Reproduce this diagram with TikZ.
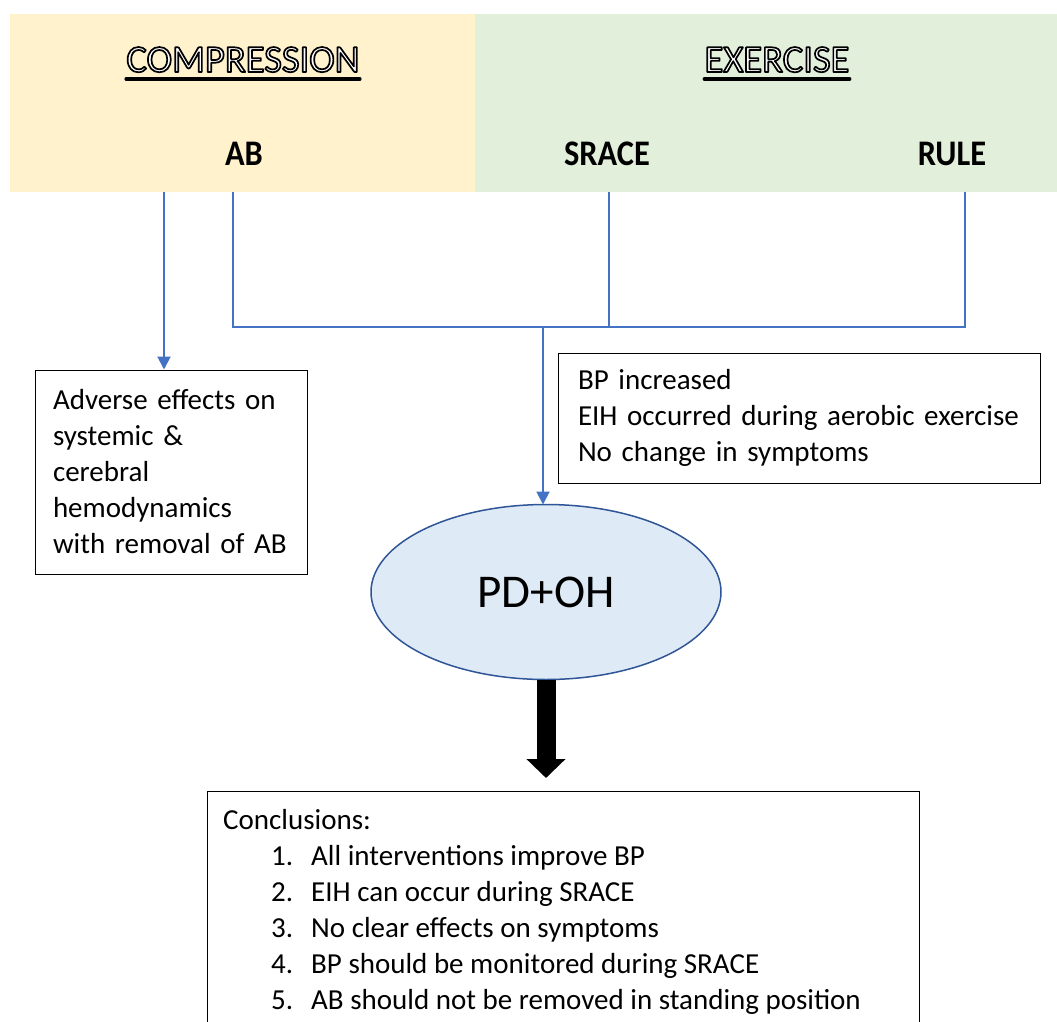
\documentclass[tikz,border=0pt]{standalone}
\usepackage{fontspec}
\setmainfont{Carlito}
\usetikzlibrary{arrows.meta,shapes.geometric}
\definecolor{yellowbg}{HTML}{FFF2CC}
\definecolor{greenbg}{HTML}{E2EFDA}
\definecolor{linkblue}{HTML}{4472C4}
\definecolor{ellfill}{HTML}{DEEBF7}
\definecolor{elldraw}{HTML}{2F5597}
% outlined (hollow) heading text: light fill, black stroke
\newcommand{\hollowtext}[1]{{\color{white}\special{pdf:literal direct 0 0 0 RG 1.7 w 1 j 2 Tr}#1\special{pdf:literal direct 0 Tr}}}
\begin{document}
\begin{tikzpicture}[x=1pt,y=-1pt,
  band/.style={inner sep=0pt, outer sep=0pt, anchor=north west, minimum height=178pt, draw=none},
  head/.style={anchor=base, inner sep=0pt, font=\fontsize{38.5}{46}\selectfont},
  sub/.style={anchor=base, inner sep=0pt, font=\fontsize{36}{42}\selectfont\bfseries},
  txtbox/.style={draw=black, line width=1pt, align=left, font=\fontsize{29}{36}\selectfont},
  link/.style={draw=linkblue, line width=2pt},
  linkarrow/.style={link, -{Triangle[width=13pt,length=13pt]}},
  uline/.style={line width=3.5pt, line cap=round}
]
\clip (0,0) rectangle (1057,1022);
\fill[white] (0,0) rectangle (1057,1022);

% header bands
\node[band, fill=yellowbg, minimum width=465pt] (compband) at (10,14) {};
\node[band, fill=greenbg, minimum width=582pt] (exband) at (475,14) {};

% header titles
\node[head] (comp) at (243,72) {\hollowtext{COMPRESSION}};
\node[head] (exer) at (777,72) {\hollowtext{EXERCISE}};
\draw[uline] ([yshift=-7pt]comp.base west) -- ([yshift=-7pt]comp.base east);
\draw[uline] ([yshift=-7pt]exer.base west) -- ([yshift=-7pt]exer.base east);

\node[sub] (ab) at (244,165) {\scalebox{0.9}[1]{AB}};
\node[sub] (srace) at (607,165) {\scalebox{0.9}[1]{SRACE}};
\node[sub] (rule) at (952,165) {\scalebox{0.9}[1]{RULE}};

% boxes
\node[txtbox, minimum width=272pt, minimum height=204pt, text width=236pt, inner xsep=18pt] (adv) at (171,472)
  {\mbox{Adverse effects on}\\\mbox{systemic \&}\\\mbox{cerebral}\\\mbox{hemodynamics}\\\mbox{with removal of AB}};
\node[txtbox, minimum width=482pt, minimum height=130pt, text width=442pt, inner xsep=20pt] (res) at (799,418)
  {\mbox{BP increased}\\\mbox{EIH occurred during aerobic exercise}\\\mbox{No change in symptoms}};

% ellipse
\node[ellipse, draw=elldraw, line width=1.5pt, fill=ellfill, minimum width=350pt, minimum height=175pt,
  inner sep=0pt, outer sep=0pt, font=\fontsize{47}{56}\selectfont] (pd) at (546,592) {PD+OH};

% connectors
\coordinate (s1) at (164,192);
\coordinate (s2) at (233,192);
\coordinate (s3) at (609,192);
\coordinate (s4) at (965,192);
\coordinate (j) at (543,327);
\draw[link] (s2) |- (j) -| (s4);
\draw[link] (s3) -- (s3 |- j);
\draw[linkarrow] (j) -- (j |- pd.north);
\draw[linkarrow] (s1) -- (s1 |- adv.north);

% thick arrow
\coordinate (tip) at (546,778);
\draw[line width=19pt, -{Triangle[width=38pt,length=19pt]}] (pd.south) -- (tip);

% conclusions
\node[draw=black, line width=1pt, minimum width=712pt, minimum height=320pt, anchor=north west, inner sep=0pt] (concl) at (207,791) {};
\node[anchor=north west, inner sep=0pt, align=left, font=\fontsize{29}{36}\selectfont] (concltext)
  at ([xshift=16pt,yshift=-18.5pt]concl.north west)
  {Conclusions:\\
   \hspace*{48pt}\makebox[40pt][l]{1.}All interventions improve BP\\
   \hspace*{48pt}\makebox[40pt][l]{2.}EIH can occur during SRACE\\
   \hspace*{48pt}\makebox[40pt][l]{3.}No clear effects on symptoms\\
   \hspace*{48pt}\makebox[40pt][l]{4.}BP should be monitored during SRACE\\
   \hspace*{48pt}\makebox[40pt][l]{5.}AB should not be removed in standing position};
\end{tikzpicture}
\end{document}
